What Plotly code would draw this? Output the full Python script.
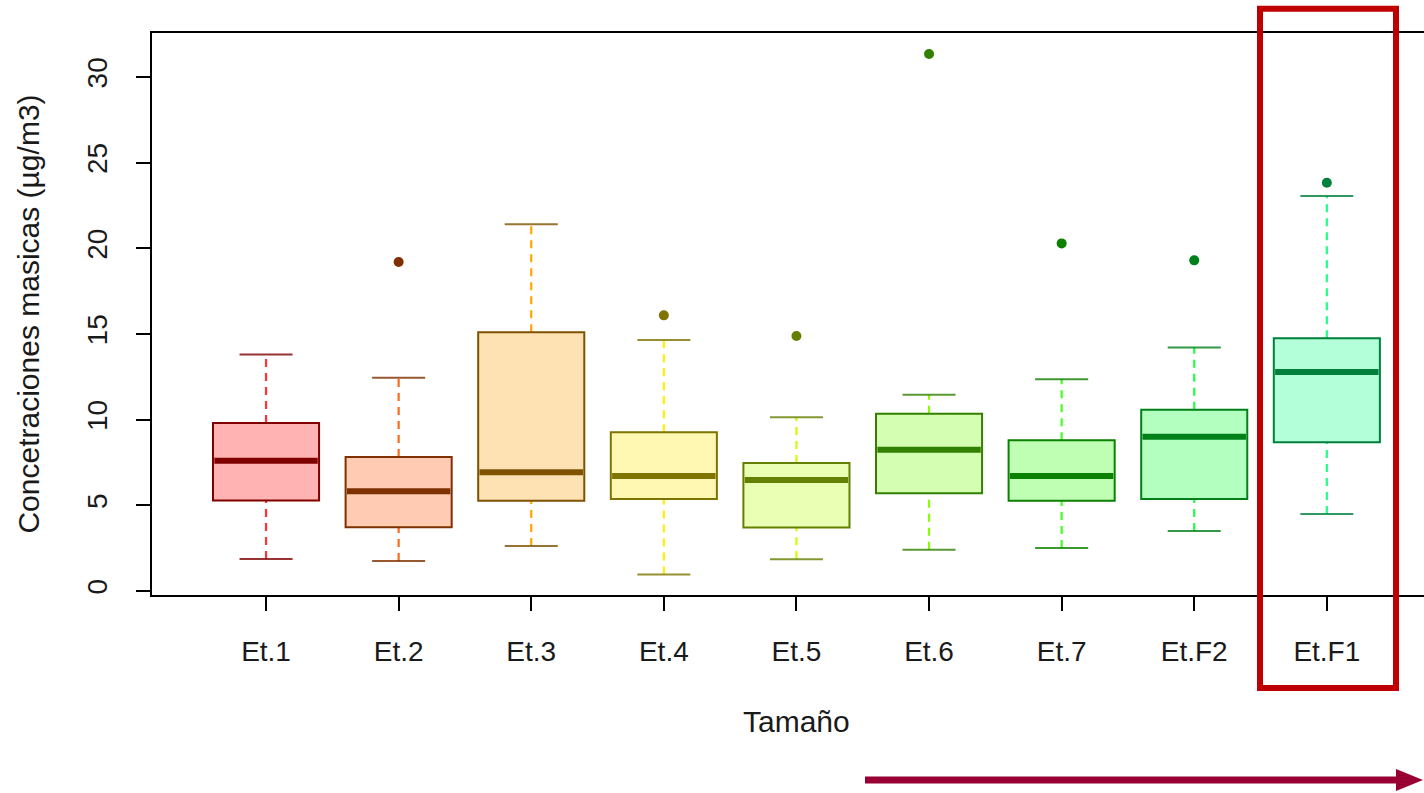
import plotly.graph_objects as go

categories = ["Et.1", "Et.2", "Et.3", "Et.4", "Et.5", "Et.6", "Et.7", "Et.F2", "Et.F1"]
lower = [1.87, 1.75, 2.63, 0.97, 1.85, 2.41, 2.51, 3.50, 4.49]
q1 = [5.28, 3.72, 5.27, 5.37, 3.70, 5.70, 5.27, 5.37, 8.68]
median = [7.60, 5.82, 6.93, 6.71, 6.48, 8.25, 6.71, 9.01, 12.78]
q3 = [9.80, 7.82, 15.10, 9.26, 7.47, 10.35, 8.80, 10.58, 14.75]
upper = [13.80, 12.45, 21.40, 14.65, 10.14, 11.46, 12.36, 14.22, 23.05]
outliers = [[], [19.2], [], [16.09], [14.88], [31.34], [20.29], [19.30], [23.83]]

dark = ["#800000", "#7F3000", "#7F5200", "#7F7400", "#648000", "#328000", "#0C8000", "#008018", "#00803C"]
fill = ["#FFB3B3", "#FFCBB3", "#FFE2B3", "#FFF8B3", "#EAFFB3", "#D4FFB3", "#BEFFB3", "#B3FFBF", "#B3FFD9"]
bright = ["#FF3333", "#FF6A1A", "#FFA500", "#FFEE00", "#CCFF00", "#88FF00", "#44FF22", "#22FF44", "#22FF88"]

y_title = "Concetraciones masicas (µg/m3)"
x_title = "Tamaño"

BOXW = 0.8
CAPW = 0.4

fig = go.Figure()
shapes = []

for i, cat in enumerate(categories):
    x = i + 1
    # dashed whiskers
    for a, b in ((q3[i], upper[i]), (lower[i], q1[i])):
        shapes.append(dict(type="line", xref="x", yref="y", x0=x, x1=x, y0=a, y1=b,
                           line=dict(color=bright[i], width=2.2, dash="8px,6px"), layer="above"))
    # box
    shapes.append(dict(type="rect", xref="x", yref="y", x0=x - BOXW / 2, x1=x + BOXW / 2,
                       y0=q1[i], y1=q3[i], fillcolor=fill[i],
                       line=dict(color=dark[i], width=2), opacity=1, layer="above"))
    # median
    shapes.append(dict(type="line", xref="x", yref="y", x0=x - BOXW / 2 + 0.01, x1=x + BOXW / 2 - 0.01,
                       y0=median[i], y1=median[i], line=dict(color=dark[i], width=6), layer="above"))
    # caps
    for v in (lower[i], upper[i]):
        shapes.append(dict(type="line", xref="x", yref="y", x0=x - CAPW / 2, x1=x + CAPW / 2,
                           y0=v, y1=v, line=dict(color=dark[i], width=2), layer="above", opacity=0.8))
    # outliers
    if outliers[i]:
        fig.add_trace(go.Scatter(x=[x] * len(outliers[i]), y=outliers[i], mode="markers",
                                 marker=dict(color=dark[i], size=10), showlegend=False,
                                 name=cat, hoverinfo="y"))

# invisible trace to anchor axes
fig.add_trace(go.Scatter(x=list(range(1, len(categories) + 1)), y=median, mode="markers",
                         marker=dict(opacity=0), showlegend=False, hoverinfo="skip"))

# annotation overlays (paper coords)
def px(xp):
    return (xp - 152) / 1272.0

def py(yp):
    return (595 - yp) / 562.0

shapes.append(dict(type="rect", xref="paper", yref="paper", x0=px(1260), x1=px(1396),
                   y0=py(688), y1=py(8.7), line=dict(color="#C00000", width=6), layer="above"))
shapes.append(dict(type="line", xref="paper", yref="paper", x0=px(865), x1=px(1398),
                   y0=py(780), y1=py(780), line=dict(color="#990033", width=7), layer="above"))
shapes.append(dict(type="path", xref="paper", yref="paper",
                   path=f"M {px(1396)} {py(769)} L {px(1423)} {py(780)} L {px(1396)} {py(791)} Z",
                   fillcolor="#990033", line=dict(color="#990033", width=0), layer="above"))

font = "Liberation Sans, Arial, sans-serif"
fig.update_layout(
    width=1424, height=793,
    margin=dict(l=152, r=0, t=33, b=198),
    paper_bgcolor="white", plot_bgcolor="white",
    shapes=shapes,
    font=dict(family=font, size=26, color="#1a1a1a"),
    annotations=[dict(text=x_title, xref="x", yref="paper", x=(1 + len(categories)) / 2,
                      y=py(722), xanchor="center", yanchor="middle", showarrow=False,
                      font=dict(size=30, color="#1a1a1a"))],
    xaxis=dict(range=[0.14, 0.14 + 1272 / 132.6], tickmode="array",
               tickvals=list(range(1, len(categories) + 1)), ticktext=categories,
               showgrid=False, zeroline=False, showline=True, linecolor="black", linewidth=1.5,
               mirror=True, ticks="outside", ticklen=14, tickwidth=1.5, tickcolor="black",
               ticklabelstandoff=17, tickfont=dict(size=28)),
    yaxis=dict(range=[-0.233, 32.57], tickvals=[0, 5, 10, 15, 20, 25, 30],
               showgrid=False, zeroline=False, showline=True, linecolor="black", linewidth=1.5,
               ticks="outside", ticklen=14, tickwidth=1.5, tickcolor="black",
               tickangle=-90, ticklabelstandoff=18, tickfont=dict(size=28),
               title=dict(text=y_title, font=dict(size=30), standoff=34)),
)

fig.write_html("out.html", config={"displayModeBar": False},
               post_script="document.body.style.margin='0px';document.body.style.overflow='hidden';")
